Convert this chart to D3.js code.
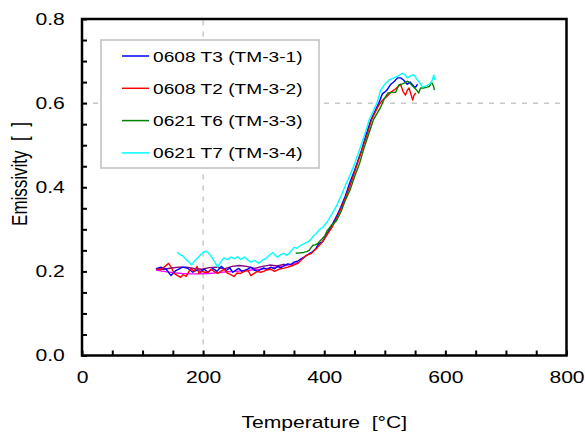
<!DOCTYPE html>
<html>
<head>
<meta charset="utf-8">
<script src="https://cdn.jsdelivr.net/npm/d3@7"></script>
<style>
  body { margin: 0; background: #fff; }
  text { font-family: "Liberation Sans", Arial, sans-serif; fill: #000; white-space: pre; }
</style>
</head>
<body>
<svg id="chart" width="585" height="435"></svg>
<script>
// --- Data -----------------------------------------------
// 0608 T3 (TM-3-1)
const t3Temp = [122,130,139,147,155,166,175,183,190,196,202,208,216,223,230,238,244,249,254,259,264,268,274,279,285,290,295,300,306,312,318,323,328,334,340,345,350,356,361,368,375,380,386,391,397,405,412,420,427,435,442,450,456,462,469,477,484,490,496,503,510,516,521,526,531,537,542,548,551,554];
const t3Emis = [0.206,0.21,0.205,0.19,0.202,0.21,0.207,0.198,0.203,0.2,0.205,0.198,0.207,0.2,0.212,0.202,0.208,0.198,0.203,0.207,0.2,0.202,0.206,0.21,0.203,0.2,0.205,0.208,0.204,0.21,0.206,0.212,0.208,0.214,0.218,0.216,0.222,0.224,0.229,0.235,0.242,0.246,0.254,0.266,0.27,0.29,0.308,0.33,0.352,0.38,0.41,0.44,0.465,0.49,0.525,0.56,0.582,0.6,0.622,0.63,0.645,0.652,0.66,0.66,0.655,0.645,0.65,0.64,0.638,0.645];

// 0608 T2 (TM-3-2)
const t2Temp = [123,130,137,143,148,152,158,163,167,172,176,180,185,190,193,198,203,208,213,218,224,229,235,240,245,251,256,262,268,274,279,285,290,295,300,306,312,318,325,332,340,348,356,363,370,378,384,389,394,399,406,413,420,428,435,443,450,458,465,472,478,484,490,496,503,510,516,521,526,530,534,537,540,543,546,548,551];
const t2Emis = [0.206,0.204,0.212,0.219,0.208,0.195,0.19,0.186,0.192,0.188,0.198,0.207,0.2,0.212,0.195,0.2,0.198,0.198,0.205,0.2,0.195,0.2,0.205,0.196,0.193,0.188,0.196,0.195,0.2,0.202,0.19,0.196,0.2,0.198,0.2,0.204,0.205,0.2,0.205,0.207,0.21,0.214,0.219,0.228,0.238,0.242,0.25,0.257,0.265,0.274,0.29,0.305,0.325,0.35,0.375,0.405,0.435,0.47,0.5,0.53,0.56,0.578,0.595,0.607,0.615,0.626,0.632,0.638,0.645,0.628,0.619,0.63,0.636,0.622,0.607,0.618,0.624];

// 0621 T6 (TM-3-3)
const t6Temp = [353,360,366,371,375,378,381,385,389,393,397,401,405,412,420,428,435,443,450,458,465,473,481,487,493,499,505,511,518,523,528,533,537,540,543,548,552,556,559,564,570,574,577,580,582];
const t6Emis = [0.243,0.244,0.245,0.247,0.25,0.256,0.262,0.263,0.266,0.272,0.278,0.285,0.297,0.31,0.32,0.343,0.37,0.395,0.425,0.455,0.49,0.525,0.56,0.575,0.59,0.61,0.624,0.625,0.626,0.643,0.645,0.648,0.652,0.65,0.645,0.638,0.632,0.624,0.636,0.636,0.638,0.64,0.65,0.642,0.631];

// 0621 T7 (TM-3-4)
const t7Temp = [157,162,167,172,177,181,186,191,196,201,205,210,215,220,224,229,234,240,246,252,257,262,268,273,279,285,292,297,303,309,315,319,323,328,333,338,344,350,355,361,367,373,378,383,387,391,398,405,412,420,428,435,443,450,456,462,468,474,480,487,493,500,507,515,522,529,533,537,543,548,554,558,562,566,570,574,577,579,581,582];
const t7Emis = [0.245,0.24,0.236,0.228,0.222,0.215,0.225,0.232,0.24,0.246,0.248,0.242,0.232,0.22,0.21,0.222,0.232,0.228,0.234,0.23,0.235,0.228,0.234,0.228,0.222,0.226,0.219,0.226,0.23,0.238,0.245,0.238,0.234,0.24,0.243,0.238,0.246,0.257,0.255,0.262,0.266,0.27,0.276,0.286,0.29,0.298,0.305,0.318,0.335,0.355,0.38,0.405,0.43,0.455,0.48,0.505,0.53,0.56,0.578,0.6,0.63,0.645,0.655,0.66,0.665,0.671,0.668,0.66,0.665,0.667,0.655,0.648,0.638,0.64,0.643,0.645,0.65,0.658,0.667,0.655];

// two unlabelled low-temperature traces (not in the legend)
const purpleTemp = [122,135,148,160,172,185,198,210,222,235,248,260,272,285,298,310,322,335];
const purpleEmis = [0.207,0.205,0.208,0.21,0.21,0.207,0.205,0.209,0.21,0.206,0.212,0.214,0.212,0.207,0.212,0.215,0.213,0.217];
const magentaTemp = [122,135,150,165,180,195,210,225,240,255,270,285,300,315,330,345,358];
const magentaEmis = [0.203,0.2,0.197,0.195,0.194,0.194,0.195,0.197,0.199,0.2,0.202,0.204,0.206,0.209,0.212,0.216,0.221];

const legendLabels = ["0608 T3 (TM-3-1)", "0608 T2 (TM-3-2)", "0621 T6 (TM-3-3)", "0621 T7 (TM-3-4)"];
const xTickLabels = [0, 200, 400, 600, 800];
const yTickLabels = [0, 0.2, 0.4, 0.6, 0.8];

// --- Layout -----------------------------------------
const plot = {left: 82, right: 566.5, top: 19, bottom: 355.5};
const sx = 1.32; // the picture's text is stretched sideways

const svg = d3.select("#chart");

const x = d3.scaleLinear().domain([0, 800]).range([plot.left, plot.right]);
const y = d3.scaleLinear().domain([0, 0.8]).range([plot.bottom, plot.top]);

// dashed reference lines at 200 C and 0.6
svg.append("line")
  .attr("x1", x(200)).attr("x2", x(200))
  .attr("y1", y(0)).attr("y2", y(0.8))
  .attr("stroke", "#c8c8c8").attr("stroke-width", 1.5)
  .attr("stroke-dasharray", "5,6");
svg.append("line")
  .attr("x1", x(0)).attr("x2", x(800))
  .attr("y1", y(0.6)).attr("y2", y(0.6))
  .attr("stroke", "#c8c8c8").attr("stroke-width", 1.5)
  .attr("stroke-dasharray", "5,6");

// --- Series -----------------------------------------
const zip = (a, b) => a.map((k, i) => [k, b[i]]);
const series = [
  {name: null, color: "#ff00ff", data: zip(magentaTemp, magentaEmis)},
  {name: null, color: "#800080", data: zip(purpleTemp, purpleEmis)},
  {name: legendLabels[0], color: "#0000ff", data: zip(t3Temp, t3Emis)},
  {name: legendLabels[1], color: "#ff0000", data: zip(t2Temp, t2Emis)},
  {name: legendLabels[2], color: "#008000", data: zip(t6Temp, t6Emis)},
  {name: legendLabels[3], color: "#00ffff", data: zip(t7Temp, t7Emis)}
];

const line = d3.line().x(d => x(d[0])).y(d => y(d[1]));

svg.append("g")
  .selectAll("path")
  .data(series)
  .join("path")
  .attr("d", d => line(d.data))
  .attr("fill", "none")
  .attr("stroke", d => d.color)
  .attr("stroke-width", 1.4)
  .attr("stroke-linejoin", "round");

// --- Axes (ticks point inward) ----------------------
const xAxis = d3.axisBottom(x)
  .tickValues(d3.range(0, 801, 50))
  .tickSizeInner(-5).tickSizeOuter(0).tickPadding(16)
  .tickFormat(d => xTickLabels.includes(d) ? d : "");
const gx = svg.append("g").attr("transform", `translate(0,${plot.bottom})`).call(xAxis);

const yAxis = d3.axisLeft(y)
  .tickValues(d3.range(0, 17).map(i => i * 0.05))
  .tickSizeInner(-5).tickSizeOuter(0).tickPadding(13)
  .tickFormat(d => yTickLabels.some(v => Math.abs(v - d) < 1e-6) ? d3.format(".1f")(d) : "");
const gy = svg.append("g").attr("transform", `translate(${plot.left},0)`).call(yAxis);

[gx, gy].forEach(g => {
  g.select(".domain").remove();
  g.selectAll(".tick line").attr("stroke", "#000").attr("stroke-width", 2);
  g.selectAll(".tick text")
    .style("font-size", "16px")
    .attr("font-family", null)
    .attr("transform", `scale(${sx},1)`);
});

// frame
svg.append("rect")
  .attr("x", plot.left).attr("y", plot.top)
  .attr("width", plot.right - plot.left).attr("height", plot.bottom - plot.top)
  .attr("fill", "none").attr("stroke", "#000").attr("stroke-width", 2.5);

// axis titles
svg.append("text")
  .attr("transform", `translate(${(plot.left + plot.right) / 2},428) scale(${sx},1)`)
  .attr("text-anchor", "middle")
  .style("font-size", "16px")
  .text("Temperature  [\u00B0C]");

svg.append("text")
  .attr("transform", `translate(27,174) scale(${sx},1) rotate(-90)`)
  .attr("text-anchor", "middle")
  .style("font-size", "17px")
  .text("Emissivity  [  ]");

// --- Legend -----------------------------------------
const legend = svg.append("g").attr("transform", "translate(101,40)");
legend.append("rect")
  .attr("width", 218).attr("height", 128)
  .attr("fill", "#fff").attr("stroke", "#c0c0c0").attr("stroke-width", 1.5);

const rows = legend.selectAll("g.row")
  .data(series.filter(s => s.name))
  .join("g")
  .attr("class", "row")
  .attr("transform", (d, i) => `translate(0,${16 + i * 32.3})`);

rows.append("line")
  .attr("x1", 21).attr("x2", 48)
  .attr("stroke", d => d.color).attr("stroke-width", 1.5);

rows.append("text")
  .attr("transform", `translate(52,5.5) scale(${sx},1)`)
  .style("font-size", "14.5px")
  .text(d => d.name);
</script>
</body>
</html>
